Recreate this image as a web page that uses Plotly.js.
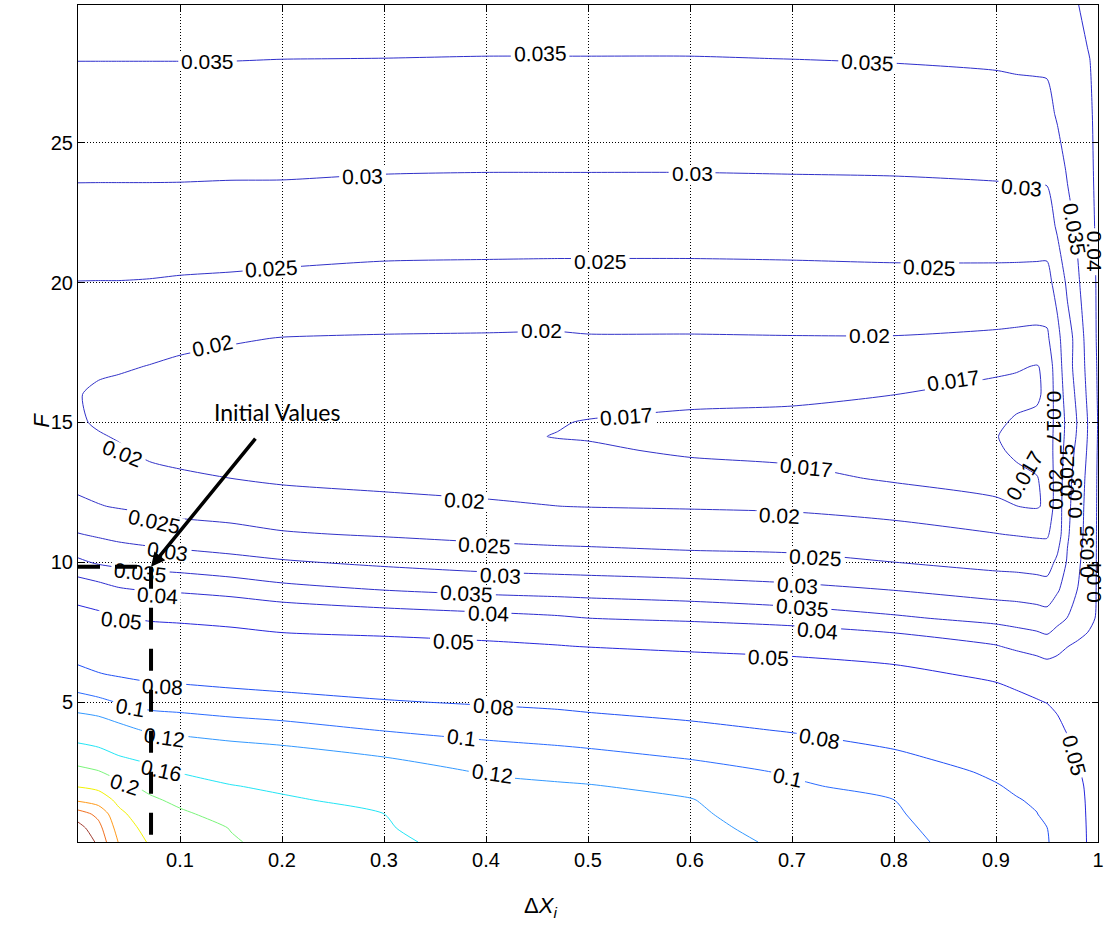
<!DOCTYPE html>
<html>
<head>
<meta charset="utf-8">
<script src="https://cdn.plot.ly/plotly-3.0.1.min.js"></script>
<style>html,body{margin:0;padding:0;background:#fff}#chart{width:1106px;height:929px}</style>
</head>
<body>
<div id="chart"></div>
<script>
// Grid of the surface: x = ΔX_i, y = F
const xs = [0, 0.02, 0.04, 0.07, 0.1, 0.15, 0.2, 0.3, 0.4, 0.47, 0.5, 0.6, 0.7, 0.8, 0.9, 0.92, 0.94, 0.95, 0.96, 0.97, 0.98, 0.99, 1.0];
const ys = [0, 0.5, 1, 1.5, 2, 2.5, 3, 4, 5, 6, 7, 8, 9, 10, 11, 12, 13, 14, 14.5, 15, 16, 17, 18, 20, 22, 24, 26, 28, 30];

// One column of values (along F) per ΔX_i grid value
const z_x000 = [0.47, 0.42, 0.373, 0.293, 0.247, 0.2125, 0.1836, 0.14, 0.1077, 0.0852, 0.0695, 0.0555, 0.0437, 0.0359, 0.0302, 0.0259, 0.0237, 0.0222, 0.0214, 0.0206, 0.0202, 0.02135, 0.02254, 0.02492, 0.02785, 0.0306, 0.0329, 0.0351, 0.0373];
const z_x002 = [0.385, 0.366, 0.3375, 0.276, 0.2375, 0.2028, 0.1755, 0.1357, 0.1041, 0.0809, 0.0667, 0.0529, 0.0424, 0.0344, 0.0294, 0.0252, 0.0232, 0.0213, 0.0204, 0.0194, 0.0193, 0.0207, 0.0221, 0.0249, 0.0278, 0.0306, 0.0329, 0.0351, 0.0372];
const z_x004 = [0.297, 0.279, 0.261, 0.2389, 0.2111, 0.1862, 0.1632, 0.1271, 0.0991, 0.0781, 0.0645, 0.051, 0.0407, 0.0337, 0.0286, 0.0247, 0.0227, 0.0206, 0.0196, 0.0193, 0.019, 0.0204, 0.0219, 0.0249, 0.0278, 0.0306, 0.0329, 0.0351, 0.0372];
const z_x007 = [0.245, 0.2321, 0.2193, 0.2064, 0.1904, 0.1712, 0.1524, 0.1171, 0.0931, 0.0751, 0.0615, 0.0486, 0.0397, 0.033, 0.0278, 0.0241, 0.0215, 0.019, 0.0188, 0.0188, 0.0191, 0.0199, 0.0215, 0.0248, 0.0278, 0.0306, 0.0329, 0.0351, 0.0372];
const z_x010 = [0.23, 0.218, 0.206, 0.1917, 0.1752, 0.1588, 0.1433, 0.1142, 0.0916, 0.0738, 0.0602, 0.0478, 0.0392, 0.0325, 0.0271, 0.0234, 0.0206, 0.0188, 0.0186, 0.0185, 0.0187, 0.0194, 0.0209, 0.0246, 0.0277, 0.0306, 0.0329, 0.0351, 0.0372];
const z_x015 = [0.203, 0.1988, 0.1863, 0.1738, 0.1613, 0.1482, 0.135, 0.1102, 0.0884, 0.0717, 0.0579, 0.0463, 0.0381, 0.0315, 0.0264, 0.0229, 0.02, 0.0185, 0.0183, 0.0182, 0.0184, 0.019, 0.0203, 0.0244, 0.0276, 0.0305, 0.0328, 0.0351, 0.0372];
const z_x020 = [0.19, 0.1814, 0.1729, 0.1643, 0.1542, 0.1425, 0.1308, 0.1071, 0.086, 0.0698, 0.0551, 0.0446, 0.0366, 0.0305, 0.0254, 0.0223, 0.0193, 0.0182, 0.018, 0.0179, 0.0181, 0.0187, 0.0199, 0.0241, 0.0275, 0.0305, 0.0328, 0.03502, 0.0372];
const z_x030 = [0.164, 0.162, 0.1601, 0.1502, 0.1404, 0.1306, 0.1208, 0.0993, 0.0813, 0.0674, 0.0539, 0.0429, 0.03502, 0.0291, 0.0246, 0.0214, 0.0187, 0.0179, 0.0177, 0.0177, 0.0179, 0.0185, 0.0197, 0.0237, 0.0271, 0.0302, 0.0326, 0.03498, 0.0371];
const z_x040 = [0.152, 0.1453, 0.1387, 0.132, 0.1253, 0.1184, 0.1104, 0.0942, 0.0782, 0.0651, 0.052, 0.0417, 0.0338, 0.028, 0.0238, 0.0205, 0.0186, 0.0176, 0.0173, 0.0173, 0.0177, 0.0185, 0.0196, 0.0236, 0.027, 0.0301, 0.0325, 0.0349, 0.0371];
const z_x047 = [0.1435, 0.1382, 0.1328, 0.1275, 0.1221, 0.1152, 0.1072, 0.0912, 0.0761, 0.0633, 0.0504, 0.0407, 0.0333, 0.0275, 0.0233, 0.02002, 0.0185, 0.0173, 0.01695, 0.0171, 0.0177, 0.0186, 0.0195, 0.0235, 0.027, 0.0301, 0.0325, 0.0349, 0.0371];
const z_x050 = [0.14, 0.1352, 0.1305, 0.1257, 0.121, 0.1137, 0.1057, 0.0894, 0.0746, 0.062, 0.0496, 0.04002, 0.0331, 0.0273, 0.0232, 0.0199, 0.0186, 0.0174, 0.0168, 0.0169, 0.0178, 0.0188, 0.0197, 0.0235, 0.027, 0.0301, 0.0325, 0.0349, 0.0371];
const z_x060 = [0.128, 0.1256, 0.1232, 0.1209, 0.115, 0.1071, 0.0993, 0.0843, 0.0713, 0.0591, 0.0477, 0.039, 0.0324, 0.0267, 0.0227, 0.0197, 0.0182, 0.0166, 0.0163, 0.0165, 0.0176, 0.0187, 0.0197, 0.0235, 0.027, 0.0301, 0.0325, 0.0349, 0.0371];
const z_x070 = [0.116, 0.1126, 0.1092, 0.1058, 0.1024, 0.0982, 0.0916, 0.0788, 0.0677, 0.0566, 0.0462, 0.0377, 0.0313, 0.0263, 0.0224, 0.0194, 0.0177, 0.0163, 0.0161, 0.0163, 0.0175, 0.0186, 0.0198, 0.0236, 0.0271, 0.0302, 0.0326, 0.03502, 0.0371];
const z_x080 = [0.106, 0.104, 0.102, 0.1001, 0.0944, 0.0888, 0.0832, 0.073, 0.0631, 0.0532, 0.0439, 0.0357, 0.02998, 0.02502, 0.0213, 0.0187, 0.0167, 0.0158, 0.0157, 0.0159, 0.01702, 0.0184, 0.0198, 0.0238, 0.0272, 0.0303, 0.0327, 0.0352, 0.0374];
const z_x090 = [0.089, 0.087, 0.0849, 0.0829, 0.0809, 0.0775, 0.0732, 0.0645, 0.0559, 0.0476, 0.0403, 0.0336, 0.0281, 0.0236, 0.0201, 0.0174, 0.0162, 0.0166, 0.0169, 0.0166, 0.0162, 0.0175, 0.0193, 0.0237, 0.0274, 0.0306, 0.0331, 0.0355, 0.0378];
const z_x092 = [0.0858, 0.0841, 0.0825, 0.0808, 0.0779, 0.0738, 0.0697, 0.0615, 0.0532, 0.0457, 0.0389, 0.0331, 0.0279, 0.0234, 0.0198, 0.01702, 0.0163, 0.0175, 0.0177, 0.0173, 0.0163, 0.0172, 0.0191, 0.0236, 0.0275, 0.0307, 0.0332, 0.0357, 0.038];
const z_x094 = [0.081, 0.0807, 0.0803, 0.0783, 0.0744, 0.0705, 0.0665, 0.0587, 0.0508, 0.044, 0.0379, 0.0325, 0.0274, 0.0231, 0.0195, 0.0168, 0.0169, 0.0178, 0.018, 0.0176, 0.0166, 0.0169, 0.0189, 0.0235, 0.0275, 0.0308, 0.0333, 0.0358, 0.0381];
const z_x095 = [0.0815, 0.0802, 0.0772, 0.0738, 0.0704, 0.0669, 0.0635, 0.0566, 0.0497, 0.0432, 0.0372, 0.032, 0.0271, 0.0229, 0.0195, 0.0174, 0.0176, 0.0184, 0.0186, 0.0184, 0.0176, 0.0174, 0.0192, 0.0234, 0.0276, 0.0309, 0.0334, 0.0359, 0.0383];
const z_x096 = [0.074, 0.0725, 0.07, 0.0675, 0.065, 0.062, 0.059, 0.0528, 0.0478, 0.043, 0.0385, 0.0336, 0.0295, 0.026, 0.0222, 0.0218, 0.0215, 0.0212, 0.021, 0.021, 0.0215, 0.0222, 0.0235, 0.0268, 0.0306, 0.0325, 0.0355, 0.0365, 0.0388];
const z_x097 = [0.066, 0.065, 0.0625, 0.0605, 0.0585, 0.056, 0.054, 0.0492, 0.0462, 0.0428, 0.0399, 0.0351, 0.032, 0.0305, 0.0295, 0.029, 0.0285, 0.0275, 0.0268, 0.0265, 0.0275, 0.0285, 0.0284, 0.0308, 0.0333, 0.0355, 0.0366, 0.0373, 0.0394];
const z_x098 = [0.057, 0.0565, 0.055, 0.054, 0.053, 0.051, 0.049, 0.0472, 0.0452, 0.0425, 0.0408, 0.0368, 0.0351, 0.034, 0.0325, 0.0322, 0.032, 0.0312, 0.0306, 0.0303, 0.031, 0.0315, 0.0315, 0.0343, 0.0358, 0.0372, 0.0377, 0.0382, 0.0399];
const z_x099 = [0.049, 0.0488, 0.0487, 0.0485, 0.048, 0.0475, 0.0468, 0.0458, 0.0444, 0.0422, 0.0412, 0.0388, 0.0378, 0.0375, 0.0372, 0.0368, 0.0362, 0.0355, 0.0352, 0.0351, 0.0358, 0.0365, 0.0372, 0.0378, 0.0384, 0.0388, 0.0392, 0.0397, 0.0415];
const z_x100 = [0.046, 0.0462, 0.0462, 0.0462, 0.046, 0.0457, 0.0453, 0.0447, 0.0437, 0.0422, 0.0413, 0.0405, 0.0405, 0.0405, 0.0405, 0.0405, 0.0405, 0.0404, 0.0403, 0.0402, 0.0404, 0.0405, 0.0406, 0.0406, 0.0408, 0.041, 0.041, 0.0412, 0.0425];

// Contour levels and their line colours (jet-like)
const levels = [0.017, 0.02, 0.025, 0.03, 0.035, 0.04, 0.05, 0.08, 0.1, 0.12, 0.16, 0.2, 0.25, 0.3, 0.35, 0.4];
const levelColors = ['#3232c8', '#3232c8', '#3232c8', '#3030c8', '#2e2ecc', '#2c2cd0', '#2626dc', '#2050f5', '#2a6cff', '#3399ff', '#22e5f5', '#7af57a', '#f2f200', '#ff9a1a', '#f07020', '#a03c30'];

// Initial values marker
const initX = [0.0716];
const initF = [9.84];

// Tick values
const xTicks = [0.1, 0.2, 0.3, 0.4, 0.5, 0.6, 0.7, 0.8, 0.9, 1];
const yTicks = [5, 10, 15, 20, 25];

// Where the contour labels sit: [level, ΔX_i, F, text angle, gap in line (0 none, 1 normal, 2 narrow)]
const labelSpots = [
  [0.035, 0.127, 27.9, 0, 1], [0.035, 0.453, 28.18, -1, 1], [0.035, 0.774, 27.86, 3, 1],
  [0.03, 0.279, 23.8, -1, 1], [0.03, 0.602, 23.88, 0, 1], [0.03, 0.925, 23.39, 5, 1],
  [0.035, 0.977, 21.9, 80, 2], [0.04, 0.996, 21.1, 90, 2],
  [0.025, 0.19, 20.5, -3, 1], [0.025, 0.512, 20.75, 0, 1], [0.025, 0.835, 20.54, 2, 1],
  [0.02, 0.132, 17.75, -12, 1], [0.02, 0.454, 18.29, 0, 1], [0.02, 0.776, 18.1, 0, 1],
  [0.017, 0.538, 15.21, -4, 1], [0.017, 0.858, 16.5, -8, 1],
  [0.02, 0.044, 13.89, 22, 1], [0.017, 0.714, 13.39, 6, 1],
  [0.02, 0.379, 12.21, 3, 1], [0.02, 0.688, 11.68, 3, 1],
  [0.025, 0.075, 11.46, 12, 1], [0.025, 0.399, 10.61, 3, 1], [0.025, 0.723, 10.18, 3, 1],
  [0.03, 0.088, 10.39, 8, 1], [0.03, 0.414, 9.54, 3, 1], [0.03, 0.705, 9.18, 4, 1],
  [0.035, 0.061, 9.64, 6, 1], [0.035, 0.381, 8.89, 3, 1], [0.035, 0.71, 8.39, 5, 1],
  [0.04, 0.078, 8.82, 4, 1], [0.04, 0.402, 8.18, 2, 1], [0.04, 0.725, 7.57, 5, 1],
  [0.05, 0.043, 7.93, 6, 1], [0.05, 0.368, 7.18, 2, 1], [0.05, 0.677, 6.61, 3, 1], [0.05, 0.977, 3.1, 75, 2],
  [0.08, 0.083, 5.57, 3, 1], [0.08, 0.407, 4.86, 5, 1], [0.08, 0.727, 3.71, 10, 1],
  [0.1, 0.051, 4.82, 10, 1], [0.1, 0.376, 3.75, 7, 1], [0.1, 0.696, 2.29, 12, 1],
  [0.12, 0.085, 3.75, 8, 1], [0.12, 0.406, 2.46, 8, 1],
  [0.16, 0.082, 2.57, 12, 1], [0.2, 0.046, 2.04, 18, 1],
  [0.017, 0.928, 13.1, -60, 0], [0.017, 0.957, 15.2, 90, 0], [0.02, 0.958, 12.6, -90, 0],
  [0.025, 0.97, 13.3, -90, 0], [0.03, 0.977, 12.3, -90, 0], [0.035, 0.988, 10.4, -90, 0], [0.04, 0.996, 9.3, -90, 0]
];

const zCols = [z_x000, z_x002, z_x004, z_x007, z_x010, z_x015, z_x020, z_x030, z_x040, z_x047, z_x050, z_x060, z_x070, z_x080, z_x090, z_x092, z_x094, z_x095, z_x096, z_x097, z_x098, z_x099, z_x100];

const W = 1106, H = 929;
const margin = {l: 78, r: 8, t: 5, b: 87};
const xRange = [0, 1], yRange = [0, 29.92];
const font = 'Arial, Liberation Sans, sans-serif';
const labelSize = 21;

const traces = levels.map((L, i) => ({
  type: 'contour',
  x: xs, y: ys, z: zCols, transpose: true,
  autocontour: false,
  contours: {start: L, end: L, size: 1, coloring: 'none', showlabels: false},
  line: {color: levelColors[i], width: 1, smoothing: 0.7},
  showscale: false, hoverinfo: 'skip'
}));

// white gaps in the contour lines under each label (rotated boxes sized from the text)
const plotW = W - margin.l - margin.r, plotH = H - margin.t - margin.b;
const toPx = (x, y) => [margin.l + (x - xRange[0]) / (xRange[1] - xRange[0]) * plotW,
                        margin.t + (yRange[1] - y) / (yRange[1] - yRange[0]) * plotH];
const toData = (px, py) => [xRange[0] + (px - margin.l) / plotW * (xRange[1] - xRange[0]),
                            yRange[1] - (py - margin.t) / plotH * (yRange[1] - yRange[0])];
const gapX = [], gapY = [];
labelSpots.forEach(s => {
  if (!s[4]) return;
  const txt = String(s[0]);
  const nDig = txt.replace('.', '').length;
  const hw = labelSize * (0.556 * nDig + 0.278) / 2 + 3;
  const hh = s[4] === 2 ? 5 : 9;
  const [cx, cy] = toPx(s[1], s[2]);
  const t = s[3] * Math.PI / 180, c = Math.cos(t), sn = Math.sin(t);
  [[-hw, -hh], [hw, -hh], [hw, hh], [-hw, hh], [-hw, -hh]].forEach(([dx, dy]) => {
    const p = toData(cx + dx * c - dy * sn, cy + dx * sn + dy * c);
    gapX.push(p[0]); gapY.push(p[1]);
  });
  gapX.push(null); gapY.push(null);
});
traces.push({
  type: 'scatter', mode: 'lines', x: gapX, y: gapY, fill: 'toself', fillcolor: '#fff',
  line: {width: 0, color: 'rgba(0,0,0,0)'}, hoverinfo: 'skip', showlegend: false
});

// dashed guide lines for the initial values
traces.push({
  type: 'scatter', mode: 'lines', x: [initX[0], initX[0]], y: [initF[0], -0.6],
  line: {color: '#000', width: 4, dash: '22px,19px'}, cliponaxis: false, hoverinfo: 'skip', showlegend: false
});
traces.push({
  type: 'scatter', mode: 'lines', x: [0, initX[0]], y: [initF[0], initF[0]],
  line: {color: '#000', width: 4, dash: '22px,15px'}, cliponaxis: false, hoverinfo: 'skip', showlegend: false
});

const axisCommon = {
  showgrid: true, gridcolor: '#000', griddash: '1px,2px', gridwidth: 1,
  zeroline: false, showline: true, mirror: 'ticks', linecolor: '#000', linewidth: 1,
  ticks: 'inside', ticklen: 6, tickcolor: '#000',
  tickfont: {size: 20, color: '#000', family: font}
};

const labelAnnotations = labelSpots.map(s => ({
  x: s[1], y: s[2], xref: 'x', yref: 'y', text: String(s[0]), textangle: s[3],
  showarrow: false, borderpad: 0,
  font: {family: font, size: labelSize, color: '#000'}
}));

const layout = {
  width: W, height: H,
  margin: margin,
  paper_bgcolor: '#fff', plot_bgcolor: '#fff',
  showlegend: false,
  xaxis: Object.assign({}, axisCommon, {range: xRange, tickvals: xTicks, ticktext: xTicks.map(String)}),
  yaxis: Object.assign({}, axisCommon, {range: yRange, tickvals: yTicks, ticktext: yTicks.map(String)}),
  annotations: labelAnnotations.concat([
    {x: initX[0], y: initF[0], xref: 'x', yref: 'y', ax: 0.195, ay: 15.36, axref: 'x', ayref: 'y',
     text: 'Initial Values', showarrow: true, arrowhead: 2, arrowsize: 0.8, arrowwidth: 3.5, arrowcolor: '#000',
     standoff: 0, startstandoff: 14, font: {family: 'Lato, Open Sans, sans-serif', size: 23, color: '#000'}},
    {x: 0.453, y: -0.097, xref: 'paper', yref: 'paper', showarrow: false,
     text: 'Δ<i>X</i><sub><i>i</i></sub>', font: {family: font, size: 22, color: '#000'}},
    {x: -0.05, y: 0.504, xref: 'paper', yref: 'paper', showarrow: false, textangle: -90,
     text: '<i>F</i>', font: {family: font, size: 22, color: '#000'}}
  ])
};

Plotly.newPlot('chart', traces, layout, {displayModeBar: false, staticPlot: true});
</script>
</body>
</html>
